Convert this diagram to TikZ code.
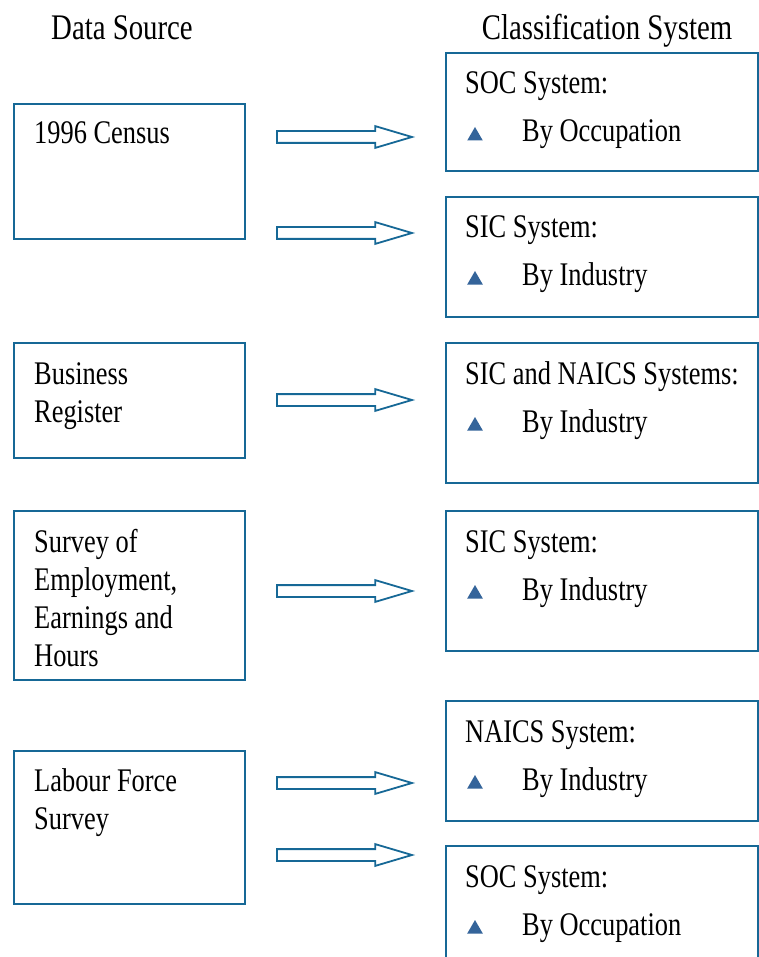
\documentclass[tikz,border=0pt]{standalone}
\usepackage{fontspec}
\setmainfont{Liberation Serif}[FakeStretch=0.8]
\usetikzlibrary{shapes.arrows, shapes.geometric}

\definecolor{boxblue}{RGB}{22,104,150}
\definecolor{bulletblue}{RGB}{52,100,154}

\begin{document}
\begin{tikzpicture}[x=1pt, y=-1pt,
    heading/.style={anchor=base, inner sep=0, font=\fontsize{36}{40}\selectfont},
    srcbox/.style={draw=boxblue, line width=1.8pt, anchor=north west, minimum width=231pt, inner sep=0},
    clsbox/.style={draw=boxblue, line width=1.8pt, anchor=north west, minimum width=312pt, inner sep=0},
    boxtext/.style={anchor=base west, inner sep=0, align=left, font=\fontsize{33}{38}\selectfont},
    bullet/.style={regular polygon, regular polygon sides=3, fill=bulletblue, minimum size=18pt, inner sep=0},
    blockarrow/.style={single arrow, draw=boxblue, line width=1.8pt, minimum height=135pt,
        inner xsep=0, inner ysep=5pt, single arrow head extend=5pt, single arrow tip angle=33}]

\useasboundingbox (0,0) rectangle (759,957);

% Column headings
\node[heading] (hsrc) at (122,40) {Data Source};
\node[heading] (hcls) at (607,40) {Classification System};

% Data sources (left column)
\node[srcbox, minimum height=135pt] (census) at (13,103) {};
\node[srcbox, minimum height=115pt] (busreg) at (13,342) {};
\node[srcbox, minimum height=169pt] (seph) at (13,510) {};
\node[srcbox, minimum height=153pt] (lfs) at (13,750) {};

% base of a multi-line node is its last line
\node[boxtext] (tcensus) at (34,144) {1996 Census};
\node[boxtext] (tbusreg) at (34,422) {Business\\Register};
\node[boxtext] (tseph) at (34,666) {Survey of\\Employment,\\Earnings and\\Hours};
\node[boxtext] (tlfs) at (34,829) {Labour Force\\Survey};

% Classification systems (right column): name, top, height, system, grouping
\foreach \n/\t/\h/\sys/\grp in {
    socA/52/118/SOC System:/By Occupation,
    sicA/196/120/SIC System:/By Industry,
    naicsA/342/140/SIC and NAICS Systems:/By Industry,
    sicB/510/140/SIC System:/By Industry,
    naicsB/700/120/NAICS System:/By Industry,
    socB/845/125/SOC System:/By Occupation} {
    \node[clsbox, minimum height=\h pt] (\n) at (445,\t) {};
    \node[boxtext] (\n-sys) at (465,\t+42) {\sys};
    \node[bullet] (\n-dot) at (475,\t+84) {};
    \node[boxtext] (\n-grp) at (522,\t+90) {\grp};
}

% Block arrows between the columns
\foreach \a/\y in {a1/137, a2/233, a3/400, a4/591, a5/783, a6/855} {
    \node[blockarrow] (\a) at (334.5,\y) {};
}

\end{tikzpicture}
\end{document}
